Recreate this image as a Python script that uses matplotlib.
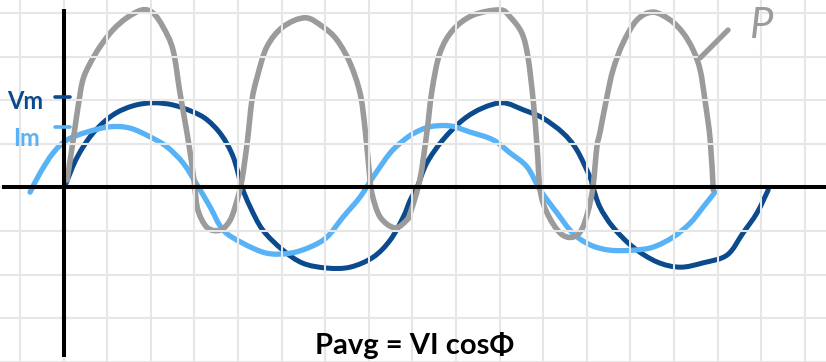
import numpy as np
import matplotlib.pyplot as plt
from matplotlib.path import Path
from matplotlib.patches import PathPatch

# one grid square = one unit on both axes
volt_t = [0.05, 0.31, 0.67, 1.13, 1.59, 2.05, 2.51, 2.97, 3.29, 3.62, 3.89, 4.09,
          4.28, 4.57, 5.03, 5.49, 6.04, 6.57, 7.10, 7.49, 7.79, 7.95, 8.11, 8.33,
          8.70, 9.16, 9.61, 10.08, 10.54, 10.99, 11.45, 11.77, 12.07, 12.14, 12.30,
          12.60, 13.06, 13.61, 14.14, 14.67, 15.22, 15.58, 15.90, 16.16]
volt_v = [0.08, 0.69, 1.24, 1.66, 1.87, 1.94, 1.89, 1.73, 1.55, 1.20, 0.70, 0.01,
          -0.45, -0.98, -1.44, -1.74, -1.85, -1.83, -1.60, -1.21, -0.68, -0.29, 0.01, 0.56,
          1.09, 1.55, 1.82, 1.94, 1.78, 1.59, 1.25, 0.86, 0.24, 0.01, -0.45,
          -0.91, -1.37, -1.71, -1.83, -1.73, -1.55, -1.05, -0.59, -0.06]

curr_t = [-0.77, -0.54, -0.24, 0.08, 0.54, 1.06, 1.52, 1.98, 2.37, 2.74, 3.06, 3.36,
          3.66, 4.11, 4.66, 5.19, 5.65, 6.04, 6.41, 6.80, 7.10, 7.49, 7.80, 8.05,
          8.40, 8.86, 9.32, 9.85, 10.24, 10.63, 10.93, 11.32, 11.68, 12.08, 12.53,
          13.06, 13.52, 13.98, 14.37, 14.67, 14.94]
curr_i = [-0.11, 0.33, 0.79, 1.09, 1.27, 1.39, 1.36, 1.16, 0.93, 0.56, 0.06, -0.45,
          -0.98, -1.28, -1.51, -1.51, -1.37, -1.14, -0.68, -0.22, 0.24, 0.79, 1.08, 1.25,
          1.39, 1.41, 1.27, 1.09, 0.79, 0.47, -0.06, -0.59, -1.05, -1.32, -1.44,
          -1.44, -1.37, -1.14, -0.82, -0.45, -0.11]

pow_t = [0.08, 0.22, 0.33, 0.44, 0.61, 0.83, 1.13, 1.45, 1.80, 2.05, 2.28, 2.51,
         2.67, 2.83, 2.95, 3.01, 3.08, 3.29, 3.59, 3.82, 3.98, 4.09, 4.21, 4.32,
         4.44, 4.66, 5.03, 5.54, 5.95, 6.27, 6.57, 6.80, 6.91, 7.00, 7.07, 7.26,
         7.60, 7.87, 7.95, 8.17, 8.33, 8.45, 8.63, 8.93, 9.39, 10.01, 10.24, 10.51,
         10.65, 10.77, 10.86, 10.93, 11.09, 11.39, 11.68, 11.91, 12.12, 12.23, 12.30,
         12.46, 12.60, 12.83, 13.15, 13.52, 13.91, 14.21, 14.44, 14.60, 14.71, 14.83,
         14.90]
pow_p = [0.17, 1.09, 1.84, 2.46, 2.85, 3.22, 3.61, 3.89, 4.07, 4.00, 3.68, 3.15,
         2.16, 1.25, 0.47, -0.01, -0.52, -0.92, -0.98, -0.75, -0.29, 0.17, 1.02, 2.00,
         2.53, 3.22, 3.68, 3.89, 3.68, 3.38, 2.85, 2.16, 1.38, 0.47, -0.13, -0.68,
         -0.93, -0.75, -0.59, 0.17, 1.25, 2.23, 3.08, 3.61, 3.95, 4.07, 3.91, 3.54,
         2.99, 2.00, 0.92, -0.06, -0.59, -1.05, -1.14, -0.91, -0.13, 0.92, 1.25,
         2.07, 2.69, 3.31, 3.84, 4.02, 3.84, 3.54, 3.15, 2.69, 2.00, 1.09,
         -0.06]

vm_level = 2.07
im_level = 1.38

DARK = '#0b4a8c'
LIGHT = '#58b2f6'
GREY = '#9b9b9b'
HAND = ['Lato', 'DejaVu Sans']


def smooth_path(xs, ys):
    # cubic bezier segments through the points (catmull-rom tangents)
    pts = np.column_stack([xs, ys])
    verts = [pts[0]]
    codes = [Path.MOVETO]
    for k in range(len(pts) - 1):
        p0 = pts[max(k - 1, 0)]
        p1 = pts[k]
        p2 = pts[k + 1]
        p3 = pts[min(k + 2, len(pts) - 1)]
        verts += [p1 + (p2 - p0) / 6, p2 - (p3 - p1) / 6, p2]
        codes += [Path.CURVE4] * 3
    return Path(verts, codes)


def draw_curve(ax, xs, ys, color, lw):
    ax.add_patch(PathPatch(smooth_path(xs, ys), facecolor='none', edgecolor=color,
                           lw=lw, capstyle='round', joinstyle='round'))


fig = plt.figure(figsize=(8.26, 3.62), dpi=100)
ax = fig.add_axes([0, 0, 1, 1])
ax.set_xlim(-1.459, 17.486)
ax.set_ylim(-4.005, 4.298)

# graph paper
ax.set_xticks(np.arange(-1, 18))
ax.set_yticks(np.arange(-4, 5))
ax.grid(True, color='#e6e6e6', lw=1.5)
ax.tick_params(length=0, labelbottom=False, labelleft=False)
for s in ax.spines.values():
    s.set_visible(False)

# axes
ax.plot([-1.42, 17.5], [0, 0], color='black', lw=2.9, solid_capstyle='butt')
ax.plot([0.02, 0.02], [-3.9, 4.1], color='black', lw=2.9, solid_capstyle='butt')

# peak markers on the vertical axis
ax.plot([-0.2, 0.15], [vm_level, vm_level], color=DARK, lw=2.6, solid_capstyle='round')
ax.plot([-0.2, 0.15], [im_level, im_level], color=LIGHT, lw=2.6, solid_capstyle='round')
ax.text(-0.88, vm_level - 0.1, 'Vm', color=DARK, fontsize=17, fontweight='bold',
        family=HAND, ha='center', va='center')
ax.text(-0.84, im_level - 0.25, 'Im', color=LIGHT, fontsize=17, fontweight='bold',
        family=HAND, ha='center', va='center')

draw_curve(ax, volt_t, volt_v, DARK, 3.6)
draw_curve(ax, curr_t, curr_i, LIGHT, 3.8)
draw_curve(ax, pow_t, pow_p, GREY, 4.0)

# label for the power curve
ax.plot([14.6, 15.24], [2.97, 3.61], color=GREY, lw=3.8, solid_capstyle='round')
ax.text(16.0, 3.7, 'P', color=GREY, fontsize=30, style='italic',
        family=HAND, ha='center', va='center')

ax.text(8.04, -3.82, 'Pavg = VI cosΦ', color='black', fontsize=21, fontweight='bold',
        family=HAND, ha='center', va='baseline')

fig.savefig('out.png', dpi=100)
